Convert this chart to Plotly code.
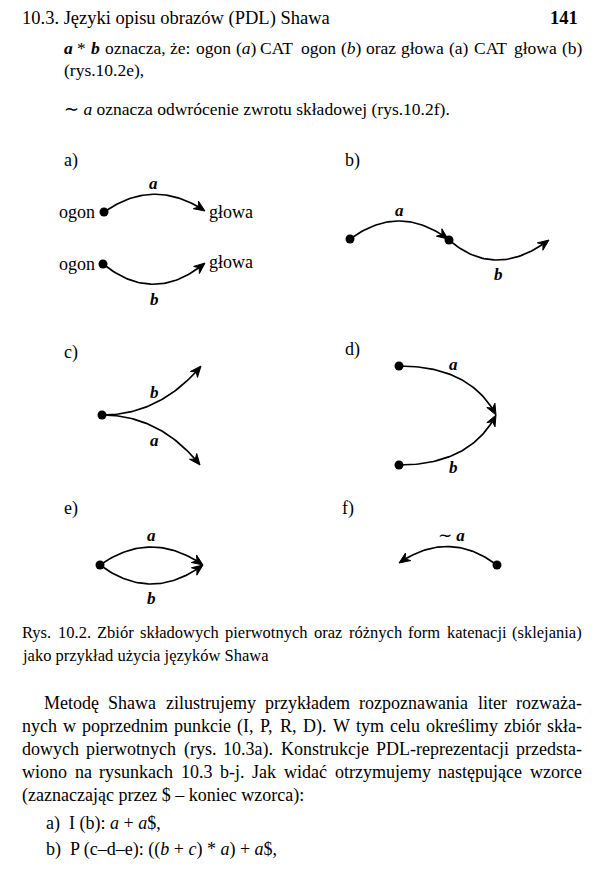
import re
import numpy as np
import plotly.graph_objects as go

# the page body keeps its default 8px margin, so the axes cover page pixels 8..592 / 8..869
PAD = 8
W, H = 600 - 2 * PAD, 877 - 2 * PAD
SERIF = "Liberation Serif"

# ---- page text ----
header_left = "10.3. Języki opisu obrazów (PDL) Shawa"
header_page = "<b>141</b>"

intro_lines = [
    "<i><b>a</b></i> * <i><b>b</b></i> oznacza, że: ogon (<i>a</i>) CAT ogon (<i>b</i>) oraz głowa (a) CAT głowa (b)",
    "(rys.10.2e),",
    "∼ <i>a</i> oznacza odwrócenie zwrotu składowej (rys.10.2f).",
]
intro_x = [62, 62, 62]
intro_y = [48, 70, 109]
intro_justify = [True, False, False]

caption_lines = [
    "Rys. 10.2. Zbiór składowych pierwotnych oraz różnych form katenacji (sklejania)",
    "jako przykład użycia języków Shawa",
]
caption_y = [632, 655]
caption_justify = [True, False]

body_lines = [
    "Metodę Shawa zilustrujemy przykładem rozpoznawania liter rozważa-",
    "nych w poprzednim punkcie (I, P, R, D). W tym celu określimy zbiór skła-",
    "dowych pierwotnych (rys. 10.3a). Konstrukcje PDL-reprezentacji przedsta-",
    "wiono na rysunkach 10.3 b-j. Jak widać otrzymujemy następujące wzorce",
    "(zaznaczając przez $ – koniec wzorca):",
    "a)\u00a0\u00a0I (b): <i>a</i> + <i>a</i>$,",
    "b)\u00a0\u00a0P (c–d–e): ((<i>b</i> + <i>c</i>) * <i>a</i>) + <i>a</i>$,",
]
body_x = [42, 20, 20, 20, 20, 44, 44]
body_y = [703, 726, 749, 772, 795, 823, 849]
body_justify = [True, True, True, True, False, False, False]

# ---- figure 10.2 ----
panel_labels = ["a)", "b)", "c)", "d)", "e)", "f)"]
panel_x = [62, 343, 62, 343, 62, 340]
panel_y = [160, 160, 352, 349, 508, 508]

# quadratic arcs: start, control, end (arrow at end)
arc_x0 = [104, 103, 350, 449, 102, 102, 399, 399, 100, 100, 497]
arc_y0 = [212, 264, 239, 240, 415, 415, 366, 465, 565, 565, 565]
arc_cx = [154, 154, 399, 495, 160, 160, 470, 470, 151, 151, 449]
arc_cy = [177, 305, 203, 280, 415, 415, 366, 465, 529, 603, 529]
arc_x1 = [205, 205, 448, 549, 201, 200, 496, 496, 203, 203, 399]
arc_y1 = [211, 263, 239, 240, 366, 465, 415, 415, 565, 565, 563]

dot_x = [104, 103, 350, 449, 102, 399, 399, 100, 497]
dot_y = [212, 264, 239, 240, 415, 366, 465, 565, 565]

edge_text = ["a", "b", "a", "b", "b", "a", "a", "b", "a", "b", "∼ a"]
edge_x = [153, 154, 399, 498, 154, 154, 453, 453, 151, 151, 451]
edge_y = [183, 299, 210, 274, 392, 440, 364, 467, 535, 598, 535]

node_text = ["ogon", "głowa", "ogon", "głowa"]
node_x = [97, 207, 97, 207]
node_y = [212, 212, 264, 262]
node_anchor = ["right", "left", "right", "left"]

# approximate Times / Liberation Serif advance widths (1/1000 em) for justification
_w = {" ": 250, "!": 333, "$": 500, "(": 333, ")": 333, "*": 500, "+": 564, ",": 250,
      "-": 333, ".": 250, ":": 278, "–": 500, "∼": 541}
_w.update({c: 500 for c in "0123456789"})
_w.update(dict(zip("ABCDEFGHIJKLMNOPQRSTUVWXYZ",
                   [722, 667, 667, 722, 611, 556, 722, 722, 333, 389, 722, 611, 889,
                    722, 722, 556, 722, 667, 556, 611, 722, 722, 944, 722, 722, 611])))
_w.update(dict(zip("abcdefghijklmnopqrstuvwxyz",
                   [444, 500, 444, 500, 444, 333, 500, 500, 278, 278, 500, 278, 778,
                    500, 500, 500, 500, 333, 389, 278, 500, 500, 722, 500, 500, 444])))
_w.update({"ę": 444, "ą": 444, "ł": 278, "ó": 500, "ż": 444, "ź": 444, "ś": 389,
           "ć": 444, "ń": 500})


def plain(s):
    return re.sub(r"<[^>]+>", "", s)


def text_width(s, size):
    return sum(_w.get(ch, 500) for ch in plain(s)) * size / 1000.0


def put(fig, text, x, y, size, anchor="left"):
    fig.add_annotation(x=x, y=y, xref="x", yref="y", text=text, showarrow=False,
                       xanchor=anchor, yanchor="middle",
                       font=dict(family=SERIF, size=size, color="black"))


def put_line(fig, text, x0, y, size, justify, x1=580):
    if not justify:
        put(fig, text, x0, y, size)
        return
    # justified line: each word placed on its own, spaces stretched to fill
    words = text.split(" ")
    ws = [text_width(w, size) for w in words]
    gap = (x1 - x0 - sum(ws)) / (len(words) - 1)
    x = x0
    for w, wd in zip(words, ws):
        put(fig, w, x, y, size, "left")
        x += wd + gap


fig = go.Figure()

t = np.linspace(0, 1, 50)
cx_all, cy_all, hx, hy = [], [], [], []
for i in range(len(arc_x0)):
    p0 = np.array([arc_x0[i], arc_y0[i]], float)
    c = np.array([arc_cx[i], arc_cy[i]], float)
    p1 = np.array([arc_x1[i], arc_y1[i]], float)
    d = p1 - c
    d = d / np.hypot(*d)
    nrm = np.array([-d[1], d[0]])
    tip = p1
    notch = tip - 7.5 * d
    pts = ((1 - t)[:, None] ** 2) * p0 + (2 * (1 - t) * t)[:, None] * c + (t ** 2)[:, None] * p1
    keep = np.hypot(*(pts - tip).T) > 6
    pts = pts[keep]
    cx_all += list(pts[:, 0]) + [None]
    cy_all += list(pts[:, 1]) + [None]
    back_l = tip - 11 * d + 4.6 * nrm
    back_r = tip - 11 * d - 4.6 * nrm
    for q in (tip, back_l, notch, back_r, tip):
        hx.append(q[0])
        hy.append(q[1])
    hx.append(None)
    hy.append(None)

fig.add_trace(go.Scatter(x=cx_all, y=cy_all, mode="lines",
                         line=dict(color="black", width=1.7), hoverinfo="skip"))
fig.add_trace(go.Scatter(x=hx, y=hy, mode="lines", fill="toself", fillcolor="black",
                         line=dict(color="black", width=1), hoverinfo="skip"))
fig.add_trace(go.Scatter(x=dot_x, y=dot_y, mode="markers",
                         marker=dict(color="black", size=9), hoverinfo="skip"))

# header
put(fig, header_left, 20, 18, 18.5)
put(fig, header_page, 580, 18, 18.5, "right")

for s, x, y, j in zip(intro_lines, intro_x, intro_y, intro_justify):
    put_line(fig, s, x, y, 17.5, j)

for s, x, y in zip(panel_labels, panel_x, panel_y):
    put(fig, s, x, y, 18)
for s, x, y in zip(edge_text, edge_x, edge_y):
    put(fig, "<i><b>" + s + "</b></i>" if s != "∼ a" else "∼ <i><b>a</b></i>", x, y, 17, "center")
for s, x, y, a in zip(node_text, node_x, node_y, node_anchor):
    put(fig, s, x, y, 18, a)

for s, y, j in zip(caption_lines, caption_y, caption_justify):
    put_line(fig, s, 20, y, 16.5, j)

for s, x, y, j in zip(body_lines, body_x, body_y, body_justify):
    put_line(fig, s, x, y, 18, j)

fig.update_layout(
    width=W, height=H,
    margin=dict(l=0, r=0, t=0, b=0),
    paper_bgcolor="white", plot_bgcolor="white",
    showlegend=False,
    xaxis=dict(range=[PAD, PAD + W], visible=False, fixedrange=True),
    yaxis=dict(range=[PAD + H, PAD], visible=False, fixedrange=True),
)

fig.write_html("out.html")
